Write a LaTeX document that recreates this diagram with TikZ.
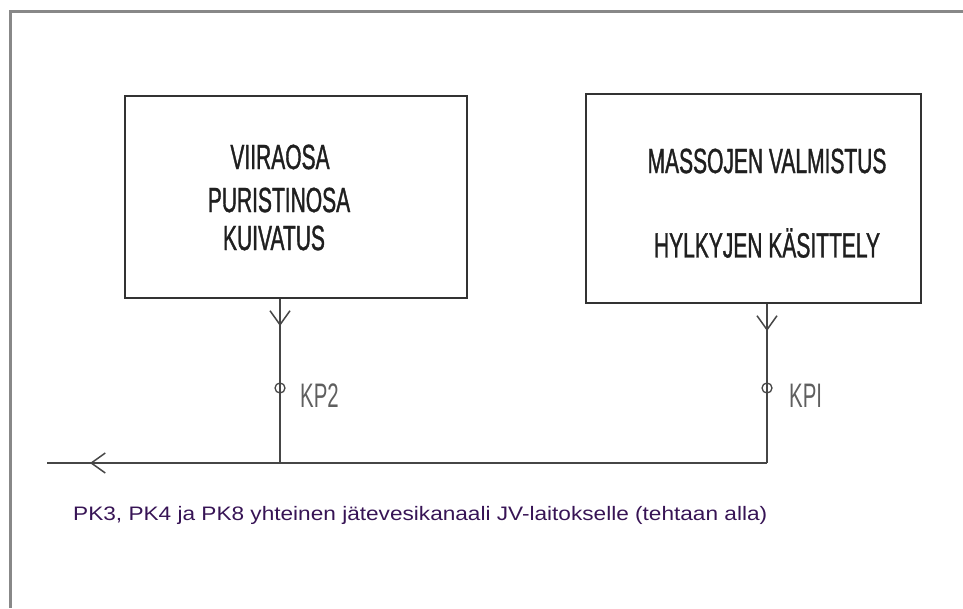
\documentclass[tikz,border=0pt]{standalone}
\usepackage{fontspec}
\setmainfont{Liberation Sans}
\newfontfamily\condfont[FakeStretch=0.6, FakeBold=1]{Liberation Sans}
\newfontfamily\kpfont[FakeStretch=0.6]{Liberation Sans}
\newfontfamily\notefont[FakeStretch=1.16]{Liberation Sans}
\usetikzlibrary{arrows.meta,decorations.markings}

\definecolor{framegray}{RGB}{136,136,136}
\definecolor{boxgray}{RGB}{50,50,50}
\definecolor{linegray}{RGB}{70,70,70}
\definecolor{kpgray}{RGB}{95,95,95}
\definecolor{notepurple}{RGB}{55,20,85}

\tikzset{
  frameline/.style={draw=framegray, line width=3pt},
  unitbox/.style={draw=boxgray, line width=2pt, rectangle, inner sep=0pt},
  boxtext/.style={font=\condfont\fontsize{35}{40}\selectfont, text=black!88, inner sep=0pt},
  kplabel/.style={font=\kpfont\fontsize{34}{40}\selectfont, text=kpgray, inner sep=0pt},
  conn/.style={draw=linegray, line width=1.5pt},
  flowmark/.style={postaction=decorate, decoration={markings,
      mark=at position #1 with {\arrow{Straight Barb[length=14pt,width=20pt,line width=1.5pt]}}}},
  wellmark/.style={circle, draw=linegray, line width=1.3pt, minimum size=10pt, inner sep=0pt},
  note/.style={font=\notefont\fontsize{19.5}{22}\selectfont, text=notepurple, inner sep=0pt}
}

\begin{document}
\begin{tikzpicture}[x=1pt, y=-1pt]
  \useasboundingbox (0,0) rectangle (963,608);

  % outer frame (open to the right and bottom)
  \draw[frameline] (963,11.5) -- (10,11.5) -- (10,608);

  % process units
  \node[unitbox, minimum width=342pt, minimum height=202pt] (A) at (296,197) {};
  \node[unitbox, minimum width=335pt, minimum height=209pt] (B) at (753.5,198.5) {};

  \node[boxtext] (a1) at (280,157) {VIIRAOSA};
  \node[boxtext] (a2) at (279,200) {PURISTINOSA};
  \node[boxtext] (a3) at (274,238) {KUIVATUS};

  \node[boxtext] (b1) at (767,161) {MASSOJEN VALMISTUS};
  \node[boxtext] (b2) at (767,243) {HYLKYJEN KÄSITTELY};

  % sewer junctions and outlet
  \coordinate (jl) at (280,463);
  \coordinate (jr) at (767,463);
  \coordinate (out) at (47,463);

  % branch lines with flow direction
  \draw[conn, flowmark=27pt] (A.south -| jl) -- (jl);
  \draw[conn, flowmark=27pt] (B.south -| jr) -- (jr);
  \draw[conn, flowmark=677pt] (jr) -- (out);

  % measuring points
  \node[wellmark] (kp2) at (280,388) {};
  \node[wellmark] (kp1) at (767,388) {};
  \node[kplabel, anchor=west] (kp2t) at (300,396) {KP2};
  \node[kplabel, anchor=west] (kp1t) at (789,396) {KPI};

  % channel description
  \node[note, anchor=base west] (desc) at (73,520) {PK3, PK4 ja PK8 yhteinen jätevesikanaali JV-laitokselle (tehtaan alla)};
\end{tikzpicture}
\end{document}
